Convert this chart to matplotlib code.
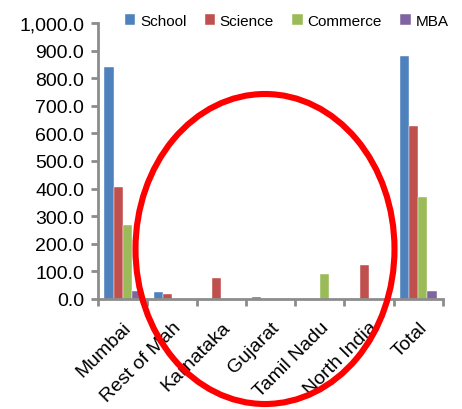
import matplotlib.pyplot as plt
from matplotlib.patches import Ellipse
from matplotlib.ticker import FuncFormatter
import numpy as np

regions = ["Mumbai", "Rest of Mah", "Karnataka", "Gujarat", "Tamil Nadu", "North India", "Total"]
school = [840, 24, 0, 6, 0, 0, 880]
science = [407, 18, 75, 0, 0, 125, 627]
commerce = [268, 0, 0, 0, 90, 0, 370]
mba = [30, 0, 0, 0, 0, 0, 30]

series = [("School", school, "#4F81BD"),
          ("Science", science, "#C0504D"),
          ("Commerce", commerce, "#9BBB59"),
          ("MBA", mba, "#8064A2")]

plt.rcParams['font.family'] = ['Liberation Sans', 'DejaVu Sans']

fig = plt.figure(figsize=(4.62, 4.10), dpi=100)
ax = fig.add_axes([98 / 462, 1 - 300 / 410, (443 - 98) / 462, (300 - 24) / 410])

x = np.arange(len(regions))
w = 0.185
for i, (name, vals, col) in enumerate(series):
    ax.bar(x + (i - 1.5) * w, vals, w, color=col, label=name, edgecolor="white", linewidth=0.3)

ax.set_xlim(-0.5, len(regions) - 0.5)
ax.set_ylim(0, 1000)
ax.set_yticks(np.arange(0, 1001, 100))
ax.yaxis.set_major_formatter(FuncFormatter(lambda v, p: f"{v:,.1f}"))

ax.set_xticks(x)
ax.set_xticklabels(regions, rotation=45, ha="right", rotation_mode="anchor")
ax.set_xticks(np.arange(-0.5, len(regions)), minor=True)
ax.tick_params(axis="x", which="major", length=0, labelsize=14, pad=14)
ax.tick_params(axis="x", which="minor", length=5, width=2, color="#8c8c8c")
ax.tick_params(axis="y", length=5, width=2, color="#8c8c8c", labelsize=14, pad=5)

for s in ["top", "right"]:
    ax.spines[s].set_visible(False)
for s in ["left", "bottom"]:
    ax.spines[s].set_color("#8c8c8c")
    ax.spines[s].set_linewidth(2)

fig.legend(loc="upper left", bbox_to_anchor=(120 / 462, 1 - 10 / 410), ncol=4, frameon=False,
           fontsize=11, handlelength=0.7, handleheight=0.7, handletextpad=0.3, columnspacing=1.2,
           borderaxespad=0, borderpad=0.3)

ell = Ellipse((265 / 462, 1 - 250 / 410), 259 / 462, 310 / 410, transform=fig.transFigure,
              fill=False, edgecolor="#FF0000", linewidth=4.4)
fig.add_artist(ell)

fig.savefig("out.png", dpi=100)
